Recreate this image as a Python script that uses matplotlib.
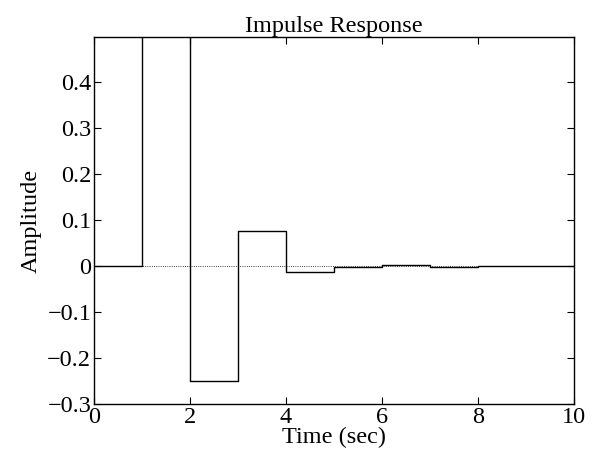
import numpy as np
import matplotlib.pyplot as plt

# impulse response samples (sample time 1 s)
t = [0, 1, 2, 3, 4, 5, 6, 7, 8, 9, 10]
h = [0, 1.0, -0.25, 0.075, -0.0135, -0.003, 0.0012, -0.0018, -0.0005, -0.0002, -0.0002]

yticks = [-0.3, -0.2, -0.1, 0, 0.1, 0.2, 0.3, 0.4]
xticks = [0, 2, 4, 6, 8, 10]

plt.rcParams['font.family'] = ['Liberation Serif', 'DejaVu Serif']
plt.rcParams['font.size'] = 17.5

fig = plt.figure(figsize=(5.92, 4.59), dpi=100)
ax = fig.add_axes([0.1588, 0.1198, 0.8108, 0.7989])

ax.axhline(0, color='black', linestyle=':', linewidth=0.6)
ax.step(t, h, where='post', color='black', linewidth=1.0)

ax.set_xlim(0, 10)
ax.set_ylim(-0.3, 0.497)
ax.set_xticks(xticks)
ax.set_yticks(yticks)
ax.set_xticklabels([str(v) for v in xticks])
ax.set_yticklabels(['\u22120.3', '\u22120.2', '\u22120.1', '0', '0.1', '0.2', '0.3', '0.4'])
ax.tick_params(direction='in', length=5, width=0.8, top=True, right=True, pad=2)
for s in ax.spines.values():
    s.set_linewidth(1.0)

ax.set_title('Impulse Response', fontsize=17.5, pad=4)
ax.set_xlabel('Time (sec)', labelpad=-1)
ax.set_ylabel('Amplitude', labelpad=4)

fig.savefig('out.png', dpi=100)
